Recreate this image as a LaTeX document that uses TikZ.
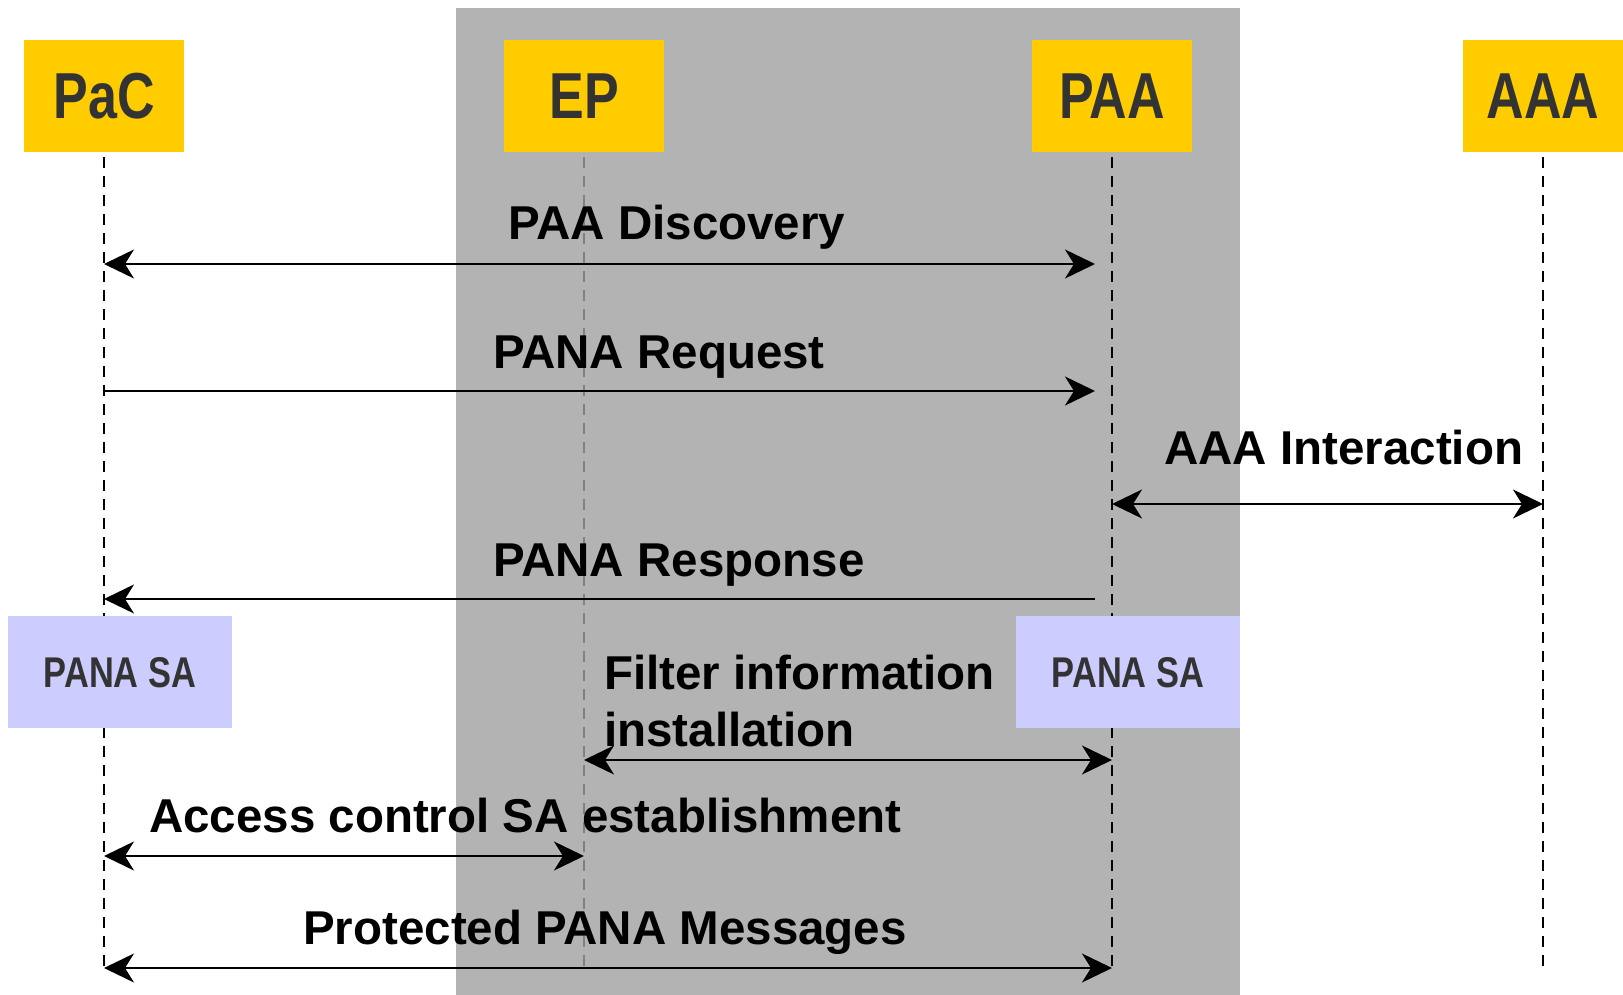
\documentclass[tikz,border=0pt]{standalone}
\usepackage{fontspec}
\setmainfont{Liberation Sans}
\newfontfamily\narrowfont[FakeStretch=0.8]{Liberation Sans}
\usetikzlibrary{arrows.meta}

\definecolor{actorfill}{HTML}{FFCC00}
\definecolor{domainfill}{HTML}{B3B3B3}
\definecolor{safill}{HTML}{CCCCFF}
\definecolor{boxtext}{HTML}{333333}

\tikzset{
  msgtip/.tip={Stealth[length=30pt,width=29pt,inset=9pt]},
}

\begin{document}
\begin{tikzpicture}[x=1pt,y=-1pt,
  actor/.style={fill=actorfill,minimum width=160pt,minimum height=112pt,inner sep=0pt,
    text=boxtext,font=\narrowfont\bfseries\fontsize{65}{65}\selectfont},
  sabox/.style={fill=safill,minimum width=224pt,minimum height=112pt,inner sep=0pt,
    text=boxtext,font=\narrowfont\bfseries\fontsize{43}{43}\selectfont},
  life/.style={line width=1.9pt,dash pattern=on 11pt off 8pt,shorten <=5pt},
  msg/.style={line width=1.9pt,-msgtip},
  both/.style={line width=1.9pt,msgtip-msgtip},
  lbl/.style={anchor=base west,inner sep=0pt,align=left,
    font=\bfseries\fontsize{47.5}{57}\selectfont}]
  \useasboundingbox (0,0) rectangle (1623,995);

  % access network
  \fill[domainfill] (456,8) rectangle (1240,995);

  \node[actor] (pac) at (104,96) {PaC};
  \node[actor] (ep) at (584,96) {EP};
  \node[actor] (paa) at (1112,96) {PAA};
  \node[actor] (aaa) at (1543,96) {AAA};

  \coordinate (pac-end) at (pac |- 0,968);
  \coordinate (ep-end) at (ep |- 0,968);
  \coordinate (paa-end) at (paa |- 0,968);
  \coordinate (aaa-end) at (aaa |- 0,968);

  \draw[life] (pac.south) -- (pac-end);
  \draw[life,black!50] (ep.south) -- (ep-end);
  \draw[life] (paa.south) -- (paa-end);
  \draw[life] (aaa.south) -- (aaa-end);

  \node[sabox,text depth=-8pt] (sa-pac) at (120,672) {PANA SA};
  \node[sabox,text depth=-8pt] (sa-paa) at (1128,672) {PANA SA};

  % messages
  \draw[both,shorten >=17pt] (pac |- 0,264) -- (paa |- 0,264);
  \node[lbl] (disc) at (508,240) {PAA Discovery};

  \draw[msg,shorten >=17pt] (pac |- 0,391) -- (paa |- 0,391);
  \node[lbl] (req) at (493,368) {PANA Request};

  \draw[both] (paa |- 0,504) -- (aaa |- 0,504);
  \node[lbl] (inter) at (1164,464) {AAA Interaction};

  \draw[msg,shorten <=17pt] (paa |- 0,599) -- (pac |- 0,599);
  \node[lbl] (resp) at (493,576) {PANA Response};

  \draw[both] (ep |- 0,760) -- (paa |- 0,760);
  \node[lbl] (filter) at (604,746) {Filter information\\installation};

  \draw[both] (pac |- 0,856) -- (ep |- 0,856);
  \node[lbl] (access) at (149,832) {Access control SA establishment};

  \draw[both] (pac-end) -- (paa-end);
  \node[lbl] (prot) at (303,944) {Protected PANA Messages};
\end{tikzpicture}
\end{document}
